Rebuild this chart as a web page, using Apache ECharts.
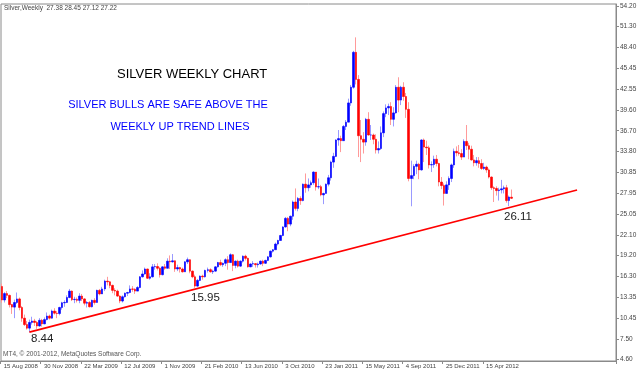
<!DOCTYPE html>
<html><head><meta charset="utf-8">
<script src="https://cdn.jsdelivr.net/npm/echarts@6/dist/echarts.min.js"></script>
<style>html,body{margin:0;padding:0;background:#fff}#c{width:640px;height:372px}</style>
</head><body><div id="c"></div>
<script>
// Weekly silver OHLC, week of 15 Aug 2008 .. early Jul 2012
const opens = [14.85,12.95,13.85,13.60,12.30,11.95,12.60,13.10,11.90,10.40,9.50,9.00,9.80,10.00,9.80,9.30,10.10,9.60,10.20,10.70,10.40,11.40,11.10,11.05,11.90,12.55,12.60,13.30,14.20,13.00,13.05,12.90,13.50,13.10,12.50,12.60,12.00,12.90,12.60,14.30,13.80,14.50,15.60,15.50,15.00,14.30,14.20,13.50,12.80,13.40,13.90,14.00,14.50,14.45,14.20,14.70,16.20,16.60,17.30,16.00,16.20,17.60,17.65,17.40,16.50,17.60,17.40,18.40,18.30,18.45,17.30,17.50,17.30,16.90,18.30,18.60,17.00,16.20,14.90,15.70,16.30,16.20,17.10,17.20,16.90,17.00,17.60,18.20,17.90,18.10,18.60,18.20,19.30,17.80,18.40,17.70,18.40,19.10,18.80,17.60,18.00,18.05,17.90,18.00,18.40,18.10,18.50,19.00,19.80,20.00,20.80,21.30,22.00,23.20,24.40,23.60,24.70,26.70,25.80,27.20,26.90,29.20,28.70,29.10,29.40,30.90,28.80,28.85,27.70,27.90,29.20,30.10,32.30,33.10,35.40,35.60,35.30,37.30,37.90,40.60,42.80,47.70,43.90,36.00,35.50,35.10,38.30,36.10,36.10,35.50,34.00,34.20,36.40,39.10,39.90,40.10,38.30,39.20,42.80,41.00,42.80,41.50,39.70,30.00,30.40,31.70,32.00,31.20,35.40,34.40,34.30,31.90,31.95,32.70,32.10,29.50,29.00,27.90,29.10,30.00,31.90,33.80,33.60,33.50,33.00,35.20,34.60,34.10,32.60,32.20,32.50,32.10,31.40,31.60,31.20,30.20,28.70,28.60,28.30,28.40,28.55,28.70,26.90,27.38];
const highs = [15.25,14.05,14.20,13.70,12.40,13.00,14.00,13.30,12.10,10.90,10.00,10.20,10.60,10.30,10.00,10.40,10.30,10.50,11.20,10.90,11.60,11.80,11.40,12.00,12.70,12.90,13.60,14.50,14.30,13.40,13.30,13.90,13.80,13.20,12.80,12.80,13.00,13.20,14.40,14.50,14.80,15.80,16.20,15.60,15.10,14.60,14.40,13.60,13.60,14.00,14.10,15.00,14.90,14.60,14.90,16.30,17.10,17.50,17.35,16.70,18.00,18.00,18.10,17.60,17.70,18.00,18.80,19.20,19.40,18.50,17.90,17.60,17.50,18.40,18.90,18.65,17.10,16.50,15.90,16.40,16.50,17.20,17.50,17.40,17.20,17.70,18.30,18.60,18.20,18.80,19.10,19.50,19.40,18.50,18.60,18.50,19.20,19.30,18.90,18.10,18.40,18.10,18.20,18.50,18.60,18.60,19.10,19.90,20.10,21.00,21.40,22.10,23.30,24.60,24.60,24.80,26.90,28.60,27.40,27.50,29.30,30.70,30.00,29.70,31.00,30.90,30.00,29.10,28.00,29.30,30.50,32.50,33.60,35.50,36.80,36.00,37.50,38.20,41.20,43.10,47.90,49.80,44.50,38.20,36.50,38.50,39.30,37.50,36.30,36.20,35.20,37.30,39.40,40.40,40.50,40.70,40.00,43.10,44.20,43.00,43.50,42.00,40.70,32.50,32.00,32.50,32.20,35.50,35.60,35.30,34.60,32.40,33.20,33.30,32.20,30.20,29.30,29.60,30.30,32.10,34.20,34.50,34.70,34.10,35.50,37.50,35.00,34.60,33.30,33.00,33.00,32.70,32.20,31.80,31.40,30.30,28.90,28.90,28.70,29.80,29.00,29.10,27.60,28.45];
const lows = [12.55,12.60,13.20,11.90,11.00,10.40,12.40,11.50,9.90,9.30,8.80,8.44,9.50,9.30,8.90,9.20,9.20,9.55,10.10,10.20,10.35,10.90,10.40,10.80,11.60,12.00,12.55,13.20,12.80,12.50,12.60,12.50,12.80,12.20,11.90,11.90,11.90,12.30,12.60,13.60,13.80,14.20,15.00,14.60,13.90,13.60,13.40,12.50,12.60,13.30,13.50,13.90,14.10,13.80,14.20,14.60,16.10,16.50,15.90,15.80,16.10,17.20,17.10,16.10,16.40,17.20,17.40,17.30,18.20,16.90,17.00,16.80,16.80,16.90,18.00,16.70,16.00,14.65,14.80,15.60,15.80,16.10,16.80,16.80,16.60,16.90,17.50,17.70,17.60,17.70,17.20,18.20,17.00,17.40,17.50,17.60,18.20,18.50,17.50,17.55,17.60,17.50,17.50,17.90,17.70,18.00,18.40,18.90,19.60,20.00,20.60,21.30,21.90,23.10,22.60,23.30,24.20,25.50,25.40,26.30,26.80,28.00,28.20,28.70,29.10,28.30,28.50,27.50,26.40,27.90,28.90,29.70,31.50,33.00,34.60,33.70,35.30,36.80,37.90,40.20,42.60,43.20,33.00,32.30,33.50,34.60,36.00,35.40,34.80,33.50,33.50,34.00,35.80,38.60,38.90,37.50,37.30,39.10,39.30,40.30,40.90,38.50,29.60,26.10,29.90,30.60,29.90,31.10,32.30,33.30,31.40,30.90,31.50,31.70,28.90,28.50,26.20,27.90,28.40,29.50,31.50,33.10,33.20,32.60,33.00,34.00,32.70,32.50,31.70,31.80,31.50,31.20,31.20,30.80,30.00,28.40,26.70,27.60,26.90,27.90,27.90,26.60,26.11,27.12];
const closes = [12.95,13.85,13.60,12.30,11.95,12.60,13.10,11.90,10.40,9.50,9.00,9.80,10.00,9.80,9.30,10.10,9.60,10.20,10.70,10.40,11.40,11.10,11.05,11.90,12.55,12.60,13.30,14.20,13.00,13.05,12.90,13.50,13.10,12.50,12.60,12.00,12.90,12.60,14.30,13.80,14.50,15.60,15.50,15.00,14.30,14.20,13.50,12.80,13.40,13.90,14.00,14.50,14.45,14.20,14.70,16.20,16.60,17.30,16.00,16.20,17.60,17.65,17.40,16.50,17.60,17.40,18.40,18.30,18.45,17.30,17.50,17.30,16.90,18.30,18.60,17.00,16.20,14.90,15.70,16.30,16.20,17.10,17.20,16.90,17.00,17.60,18.20,17.90,18.10,18.60,18.20,19.30,17.80,18.40,17.70,18.40,19.10,18.80,17.60,18.00,18.05,17.90,18.00,18.40,18.10,18.50,19.00,19.80,20.00,20.80,21.30,22.00,23.20,24.40,23.60,24.70,26.70,25.80,27.20,26.90,29.20,28.70,29.10,29.40,30.90,28.80,28.85,27.70,27.90,29.20,30.10,32.30,33.10,35.40,35.60,35.30,37.30,37.90,40.60,42.80,47.70,43.90,36.00,35.50,35.10,38.30,36.10,36.10,35.50,34.00,34.20,36.40,39.10,39.90,40.10,38.30,39.20,42.80,41.00,42.80,41.50,39.70,30.00,30.40,31.70,32.00,31.20,35.40,34.40,34.30,31.90,31.95,32.70,32.10,29.50,29.00,27.90,29.10,30.00,31.90,33.80,33.60,33.50,33.00,35.20,34.60,34.10,32.60,32.20,32.50,32.10,31.40,31.60,31.20,30.20,28.70,28.60,28.30,28.40,28.55,28.70,26.90,27.40,27.22];

// x axis: total week slots (data + empty space on the right), labelled weeks
const totalSlots = 245;
const xLabelIndex = [0,16,32,48,64,80,96,112,128,144,160,176,192];
const xLabelText = ['15 Aug 2008','30 Nov 2008','22 Mar 2009','12 Jul 2009','1 Nov 2009','21 Feb 2010','13 Jun 2010','3 Oct 2010','23 Jan 2011','15 May 2011','4 Sep 2011','25 Dec 2011','15 Apr 2012'];
// y axis price scale labels
const yTickLabels = ['4.60','7.50','10.45','13.35','16.30','19.20','22.10','25.05','27.95','30.85','33.80','36.70','39.60','42.55','45.45','48.40','51.30','54.20'];
// trend line anchor points [week index, price]
const trendFrom = [11, 8.44];
const trendTo = [229, 28.37];
// annotations
const noteLow1 = '8.44', noteLow2 = '15.95', noteLow3 = '26.11';
const chartTitle = 'SILVER WEEKLY CHART';
const subLines = ['SILVER BULLS ARE SAFE ABOVE THE', 'WEEKLY UP TREND LINES'];

const cats = [];
for (let i = 0; i < totalSlots; i++) cats.push(String(i));
const wickData = opens.map((o, i) => [o, closes[i], lows[i], highs[i]]);
const bodyData = opens.map((o, i) => [o, closes[i], Math.min(o, closes[i]), Math.max(o, closes[i])]);
const last = opens.length - 1;
const labelMap = {};
xLabelIndex.forEach((k, j) => labelMap[k] = xLabelText[j]);
const showIdx = (idx) => labelMap[idx] !== undefined;

const F = 'Liberation Sans, Arial, sans-serif';
const chart = echarts.init(document.getElementById('c'), null, {renderer: 'canvas'});
chart.setOption({
  animation: false,
  backgroundColor: '#ffffff',
  grid: {left: 0.5, right: 24, top: 4, bottom: 11, containLabel: false},
  xAxis: {
    type: 'category', data: cats, boundaryGap: true,
    axisLine: {show: true, lineStyle: {color: '#8a8a8a', width: 1}},
    axisTick: {show: true, interval: showIdx, length: 3, lineStyle: {color: '#8a8a8a'}},
    axisLabel: {show: true, interval: showIdx, formatter: (v, idx) => labelMap[idx] || '',
      align: 'left', fontSize: 6, color: '#444', fontFamily: F, margin: 2, padding: [0,0,0,2]},
    splitLine: {show: false}
  },
  yAxis: {
    type: 'value', position: 'right', min: 4.39, max: 54.48, scale: true,
    axisLine: {show: true, lineStyle: {color: '#8a8a8a', width: 1}},
    axisTick: {show: true, length: 3, customValues: yTickLabels.map(Number), lineStyle: {color: '#8a8a8a'}},
    axisLabel: {show: true, customValues: yTickLabels.map(Number), formatter: v => v.toFixed(2),
      fontSize: 6.5, color: '#444', fontFamily: F, margin: 4},
    splitLine: {show: false}
  },
  series: [
    {type: 'candlestick', name: 'wick', data: wickData, barWidth: 1, silent: true,
     itemStyle: {color: '#9a9aff', color0: '#ff9a9a', borderColor: '#9a9aff', borderColor0: '#ff9a9a', borderWidth: 1}},
    {type: 'candlestick', name: 'body', data: bodyData, barWidth: 2, silent: true, z: 3,
     itemStyle: {color: '#0000ff', color0: '#ff0000', borderColor: '#0000ff', borderColor0: '#ff0000', borderWidth: 0.6},
     markLine: {silent: true, symbol: ['none','none'], data: [{yAxis: closes[last]}],
       lineStyle: {opacity: 0},
       label: {position: 'end', formatter: closes[last].toFixed(2), color: '#fff', backgroundColor: '#000',
         fontSize: 6.5, fontFamily: F, padding: [1,2,0,2], distance: 1}}},
    {type: 'line', name: 'trend', data: [trendFrom, trendTo], showSymbol: false, silent: true, z: 5,
     lineStyle: {color: '#ff0000', width: 1.6}}
  ],
  graphic: [
    {type: 'rect', z: -1, silent: true, shape: {x: 1, y: 4, width: 615, height: 357}, style: {fill: null, stroke: '#8a8a8a', lineWidth: 1}},
    {type: 'text', left: 4, top: 5, silent: true, style: {text: 'Silver,Weekly  ' + [opens[last], highs[last], lows[last], closes[last]].map(v => v.toFixed(2)).join(' '), fontSize: 6.5, fill: '#444', fontFamily: F}},
    {type: 'text', left: 3, top: 351, silent: true, style: {text: 'MT4, \u00a9 2001-2012, MetaQuotes Software Corp.', fontSize: 6.5, fill: '#555', fontFamily: F}},
    {type: 'text', left: 117, top: 68, silent: true, style: {text: chartTitle, fontSize: 13, fill: '#000', fontFamily: F}},
    {type: 'text', x: 168, y: 105, silent: true, style: {text: subLines[0], fontSize: 11, fill: '#0000ff', fontFamily: F, align: 'center', verticalAlign: 'middle'}},
    {type: 'text', x: 180, y: 127, silent: true, style: {text: subLines[1], fontSize: 11, fill: '#0000ff', fontFamily: F, align: 'center', verticalAlign: 'middle'}},
    {type: 'text', x: 31, y: 339, silent: true, style: {text: noteLow1, fontSize: 11.5, fill: '#222', fontFamily: F, verticalAlign: 'middle'}},
    {type: 'text', x: 191, y: 298, silent: true, style: {text: noteLow2, fontSize: 11.5, fill: '#222', fontFamily: F, verticalAlign: 'middle'}},
    {type: 'text', x: 504, y: 217, silent: true, style: {text: noteLow3, fontSize: 11.5, fill: '#222', fontFamily: F, verticalAlign: 'middle'}}
  ]
});
</script></body></html>
